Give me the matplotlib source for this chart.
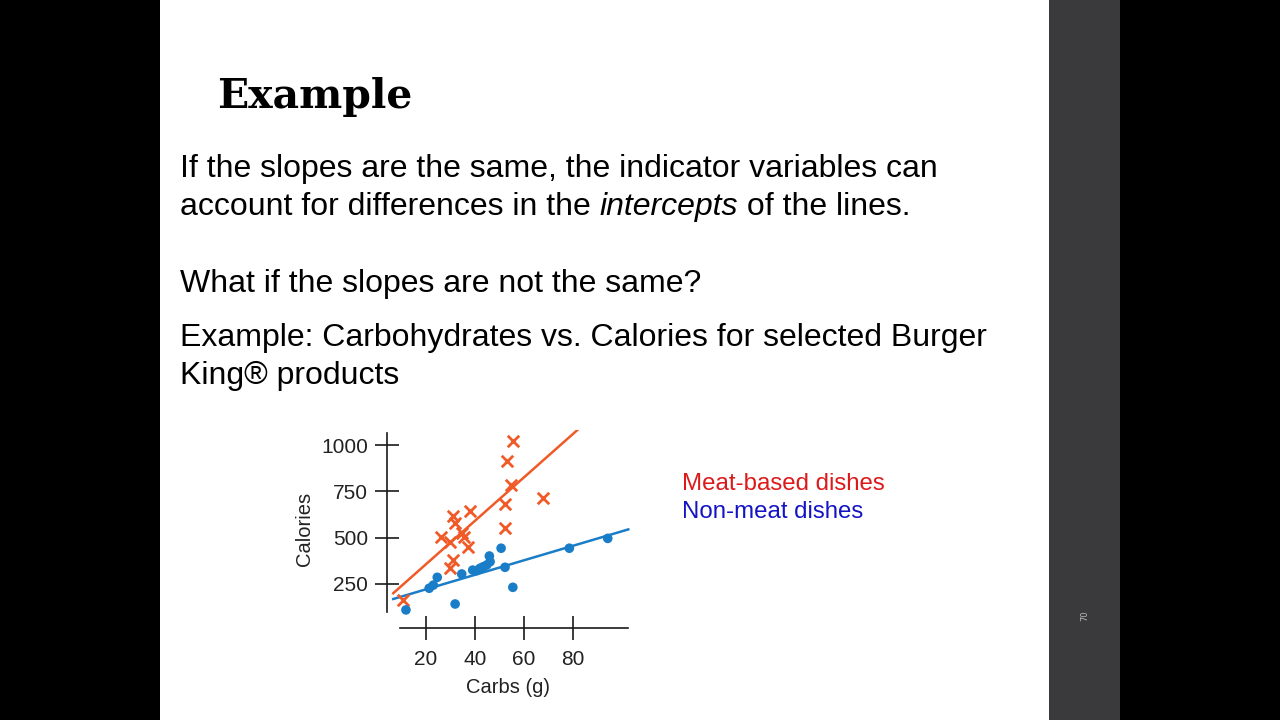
import matplotlib
matplotlib.use("Agg")
import matplotlib.pyplot as plt
from matplotlib.patches import Rectangle

# data (carbs in g, calories)
meat_carbs = [10.7, 26.0, 29.8, 31.2, 31.9, 34.6, 35.5, 38.0, 37.3, 30.9, 29.8,
              52.3, 52.3, 53.0, 54.6, 55.5, 67.7]
meat_cals = [164, 505, 478, 617, 577, 523, 505, 645, 448, 379, 335,
             682, 550, 915, 784, 1023, 716]
veg_carbs = [11.8, 21.3, 23.0, 24.6, 31.9, 34.6, 39.1, 40.7, 42.1, 43.4, 44.8,
             46.2, 45.9, 50.7, 52.3, 55.5, 78.6, 94.3]
veg_cals = [110, 227, 244, 286, 142, 304, 325, 322, 335, 343, 352,
            370, 401, 443, 340, 232, 443, 496]

# fitted lines: slope, intercept, x range
meat_fit = (11.70, 122.8, 6.6, 82.7)
veg_fit = (3.91, 143.0, 6.6, 102.7)

yticks = [250, 500, 750, 1000]
xticks = [20, 40, 60, 80]

W, H = 1280, 720

def fx(px):
    return px / W

def fy(py):
    return 1 - py / H

fig = plt.figure(figsize=(12.8, 7.2), dpi=100, facecolor="black")

# slide background + side panel (behind the axes)
fig.patches.append(Rectangle((fx(160), 0), fx(1049) - fx(160), 1, transform=fig.transFigure,
                             facecolor="white", edgecolor="none", zorder=-2))
fig.patches.append(Rectangle((fx(1049), 0), fx(1120) - fx(1049), 1, transform=fig.transFigure,
                             facecolor="#3a3a3c", edgecolor="none", zorder=-2))
fig.text(fx(1085), fy(616), "70", rotation=90, color="#bbbbbb", fontsize=6,
         ha="center", va="center", family="DejaVu Sans")

# slide text
fig.text(fx(217), fy(108), "Example", family="DejaVu Serif", weight="bold",
         fontsize=29.4, va="baseline", ha="left", color="black")

body = "Liberation Sans"
fs = 23
fig.text(fx(180), fy(177), "If the slopes are the same, the indicator variables can",
         family=body, fontsize=fs, va="baseline")
t1 = fig.text(fx(180), fy(215), "account for differences in the ", family=body,
              fontsize=fs, va="baseline")
fig.canvas.draw()
r = fig.canvas.get_renderer()
bb = t1.get_window_extent(r)
t2 = fig.text(bb.x1 / W, fy(215), "intercepts", family=body, style="italic",
              fontsize=fs, va="baseline")
bb2 = t2.get_window_extent(r)
fig.text(bb2.x1 / W, fy(215), " of the lines.", family=body, fontsize=fs, va="baseline")

fig.text(fx(180), fy(292), "What if the slopes are not the same?", family=body,
         fontsize=fs, va="baseline")
fig.text(fx(180), fy(346), "Example: Carbohydrates vs. Calories for selected Burger",
         family=body, fontsize=fs, va="baseline")
fig.text(fx(180), fy(384), "King\u00ae products", family=body, fontsize=fs, va="baseline")

# legend text
fig.text(fx(682), fy(490), "Meat-based dishes", family=body, fontsize=17.3,
         color="#dd1a1a", va="baseline")
fig.text(fx(682), fy(518.5), "Non-meat dishes", family=body, fontsize=17.3,
         color="#1414c4", va="baseline")

# chart
ax = fig.add_axes([fx(387), fy(628), fx(630) - fx(387), fy(430) - fy(628)])
ax.set_facecolor("none")
ax.set_xlim(4.05, 103.4)
ax.set_ylim(12.4, 1081)

orange = "#f05a28"
blue = "#1a7dc8"

s, b, x0, x1 = meat_fit
ax.plot([x0, x1], [s * x0 + b, s * x1 + b], color=orange, lw=1.8, zorder=2)
s, b, x0, x1 = veg_fit
ax.plot([x0, x1], [s * x0 + b, s * x1 + b], color=blue, lw=1.8, zorder=2)

ax.scatter(meat_carbs, meat_cals, marker="x", s=68, linewidths=2.0, color=orange,
           zorder=3, clip_on=False)
ax.scatter(veg_carbs, veg_cals, marker="o", s=48, color=blue, edgecolors="none",
           zorder=3, clip_on=False)

for sp in ["top", "right"]:
    ax.spines[sp].set_visible(False)
ax.spines["left"].set_bounds(99, 1065)
ax.spines["bottom"].set_bounds(9.4, 102.7)
for sp in ["left", "bottom"]:
    ax.spines[sp].set_linewidth(1.2)
    ax.spines[sp].set_color("#1a1a1a")

ax.set_xticks(xticks)
ax.set_yticks(yticks)
ax.tick_params(direction="inout", length=17, width=1.2, color="#1a1a1a",
               labelsize=15, labelcolor="#222222")
ax.tick_params(axis="y", pad=5)
ax.tick_params(axis="x", pad=7.5)
for lab in ax.get_xticklabels() + ax.get_yticklabels():
    lab.set_family(body)

ax.set_xlabel("Carbs (g)", family=body, fontsize=14.5, color="#222222", labelpad=6)
ax.set_ylabel("Calories", family=body, fontsize=14.5, color="#222222", labelpad=5)

fig.savefig("out.png", dpi=100, facecolor=fig.get_facecolor())
